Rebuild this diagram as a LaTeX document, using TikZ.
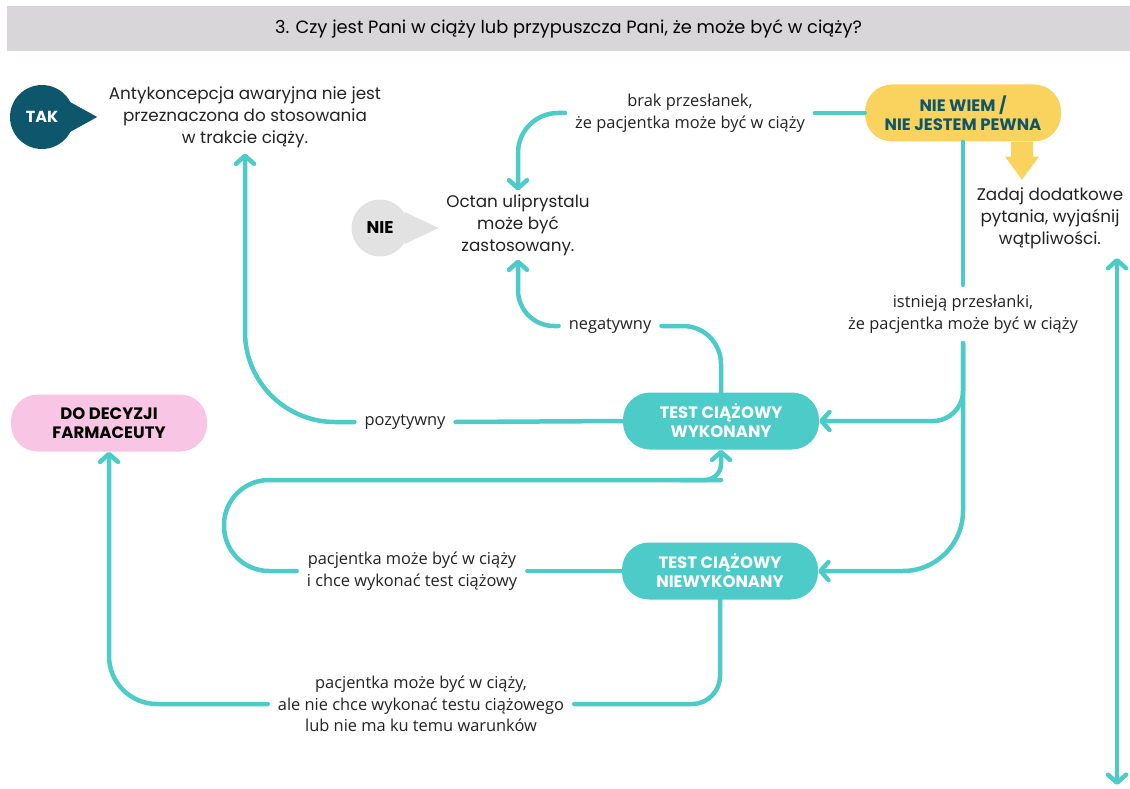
\documentclass[tikz,border=0pt]{standalone}
\usepackage{fontspec}
\setmainfont{Poppins}
\newfontfamily\labelfont{Open Sans}
\usetikzlibrary{arrows.meta}
\definecolor{flowteal}{HTML}{4CCBC8}
\definecolor{takblue}{HTML}{0E566B}
\definecolor{niegray}{HTML}{E2E2E2}
\definecolor{wiemyellow}{HTML}{FAD35E}
\definecolor{decpink}{HTML}{F8C6E4}
\definecolor{bandgray}{HTML}{D9D6D9}
\definecolor{inkgray}{HTML}{222222}

\begin{document}
\begin{tikzpicture}
[every node/.style={inner sep=0pt},
 flowtip/.tip={Straight Barb[length=8pt, width=18pt, round]},
 body/.style={align=center, font=\fontsize{16.8}{21.8}\selectfont, text=inkgray},
 lbl/.style={align=center, font=\labelfont\fontsize{16.4}{21.5}\selectfont, text=inkgray, inner xsep=10pt, inner ysep=10pt},
 pill/.style={rounded corners=27pt, minimum width=196pt, minimum height=57pt, align=center, font=\bfseries\fontsize{16.5}{19}\selectfont},
 testbox/.style={pill, fill=flowteal, text=white},
 flowline/.style={line width=4.5pt, draw=flowteal, line cap=round},
 flow/.style={flowline, -flowtip}]
\useasboundingbox (0pt,0pt) rectangle (1130pt,-789pt);
\node (title) [fill=bandgray, minimum width=1123pt, minimum height=45pt, font=\fontsize{17.8}{20}\selectfont] at (568.5pt,-28.5pt) {3. Czy jest Pani w ciąży lub przypuszcza Pani, że może być w ciąży?};
% odpowiedzi
\node (tak) [circle, minimum size=64pt, fill=takblue, text=white, font=\bfseries\fontsize{16}{18}\selectfont] at (42pt,-117pt) {TAK};
\fill [takblue] ([xshift=-6pt, yshift=16pt]tak.east) -- ([xshift=23pt]tak.east) -- ([xshift=-6pt, yshift=-16pt]tak.east) -- cycle;
\node (nie) [circle, minimum size=57pt, fill=niegray, text=black, font=\bfseries\fontsize{17}{18}\selectfont] at (380pt,-228pt) {NIE};
\fill [niegray] ([xshift=-4pt, yshift=16pt]nie.east) -- ([xshift=30pt]nie.east) -- ([xshift=-4pt, yshift=-16pt]nie.east) -- cycle;
\node (wiem) [pill, fill=wiemyellow, text=takblue] at (963pt,-113pt) {NIE WIEM /\\NIE JESTEM PEWNA};
\fill [wiemyellow] ([xshift=48pt]wiem.south) -- ++(0pt,-15pt) -- ++(-6pt,0pt) -- ++(17pt,-23pt) -- ++(17pt,23pt) -- ++(-6pt,0pt) -- ++(0pt,15pt) -- cycle;
% teksty
\node (antyk) [body, inner ysep=6pt] at (245pt,-117pt) {Antykoncepcja awaryjna nie jest\\przeznaczona do stosowania\\w trakcie ciąży.};
\node (octan) [body, inner ysep=4pt] at (518pt,-225pt) {Octan uliprystalu\\może być\\zastosowany.};
\node (zadaj) [body] at (1050pt,-218pt) {Zadaj dodatkowe\\pytania, wyjaśnij\\wątpliwości.};
% etykiety
\node (brak) [lbl] at (690pt,-113pt) {brak przesłanek,\\że pacjentka może być w ciąży};
\node (negat) [lbl] at (610pt,-326pt) {negatywny};
\node (istn) [lbl] at (963pt,-314pt) {istnieją przesłanki,\\że pacjentka może być w ciąży};
\node (pozyt) [lbl] at (405pt,-422pt) {pozytywny};
\node (chce) [lbl] at (412pt,-571pt) {pacjentka może być w ciąży\\i chce wykonać test ciążowy};
\node (nchce) [lbl] at (421pt,-704pt) {pacjentka może być w ciąży,\\ale nie chce wykonać testu ciążowego\\lub nie ma ku temu warunków};
% testy
\node (wyk) [testbox] at (721pt,-421pt) {TEST CIĄŻOWY\\WYKONANY};
\node (niewyk) [testbox] at (720pt,-571pt) {TEST CIĄŻOWY\\NIEWYKONANY};
\node (decyzja) [pill, fill=decpink, text=black] at (109pt,-423pt) {DO DECYZJI\\FARMACEUTY};
\coordinate (petla) at (224pt,-480pt);
\coordinate (strzG) at (1117pt,-258pt);
\coordinate (strzD) at (1117pt,-785pt);
% polaczenia
\draw [flowline] (wiem.west) -- (brak.east);
\draw [flow, rounded corners=40pt] (brak.west) -| (octan.north);
\draw [flowline, rounded corners=38pt] (wyk.north) |- (negat.east);
\draw [flow, rounded corners=36pt] (negat.west) -| (octan.south);
\draw [flowline] (wyk.west) -- (pozyt.east);
\draw [flow, rounded corners=90pt] (pozyt.west) -| (antyk.south);
\draw [flowline] (wiem.south) -- (istn.north);
\draw [flow, rounded corners=30pt] (istn.south) |- (wyk.east);
\draw [flow, rounded corners=60pt] (istn.south) |- (niewyk.east);
\draw [flowline] (niewyk.west) -- (chce.east);
\draw [flowline, rounded corners=45pt] (chce.west) -| (petla) -- (wyk.south |- petla);
\draw [flow, rounded corners=16pt] ([xshift=-40pt]wyk.south |- petla) -| (wyk.south);
\draw [flowline, rounded corners=28pt] (niewyk.south) |- (nchce.east);
\draw [flow, rounded corners=48pt] (nchce.west) -| (decyzja.south);
\draw [flowline, flowtip-flowtip] (strzD) -- (strzG);
\end{tikzpicture}
\end{document}
